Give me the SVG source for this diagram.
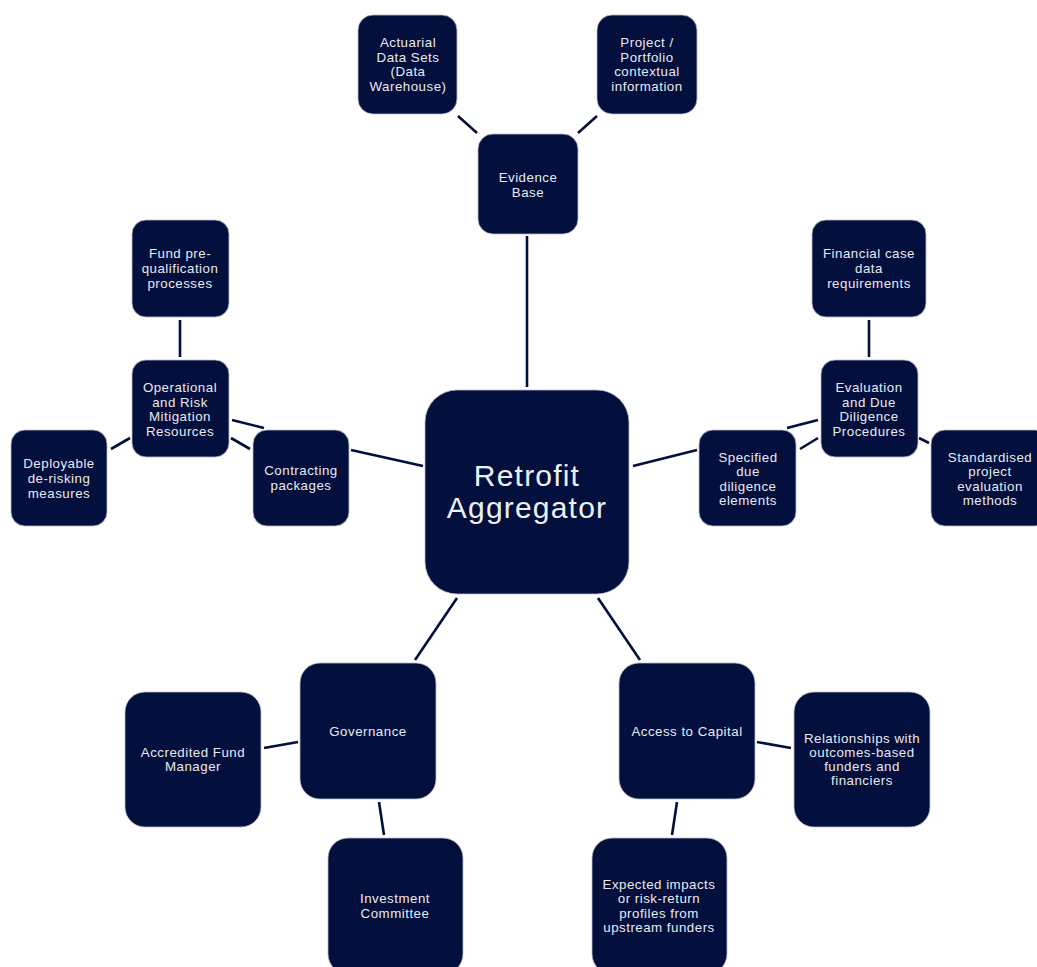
<svg xmlns="http://www.w3.org/2000/svg" width="1037" height="967" viewBox="0 0 1037 967">
  <style>
    .box { fill: #030f3c; stroke: #b9bccb; stroke-width: 0.8; }
    .lbl { font-family: "Liberation Sans", Arial, sans-serif; font-size: 13.3px; fill: #e9eaf0; text-anchor: middle; letter-spacing: 0.5px; }
    .big { font-family: "Liberation Sans", Arial, sans-serif; font-size: 30px; fill: #eeeff4; text-anchor: middle; letter-spacing: 1.2px; }
    .link { stroke: #030f3c; stroke-width: 2.6; fill: none; }
  </style>

  <!-- connectors -->
  <g id="connectors" class="link">
    <line x1="527" y1="236" x2="527" y2="387"/>
    <line x1="458" y1="116" x2="477" y2="133"/>
    <line x1="597" y1="116" x2="578" y2="133"/>
    <line x1="351" y1="450" x2="423" y2="466"/>
    <line x1="180" y1="320" x2="180" y2="357"/>
    <line x1="130" y1="438" x2="111" y2="449"/>
    <line x1="232" y1="420" x2="264" y2="428"/>
    <line x1="231" y1="438" x2="250" y2="449"/>
    <line x1="633" y1="466" x2="697" y2="450"/>
    <line x1="869" y1="320" x2="869" y2="357"/>
    <line x1="818" y1="420" x2="787" y2="428"/>
    <line x1="818" y1="438" x2="800" y2="449"/>
    <line x1="919" y1="438" x2="929" y2="443"/>
    <line x1="457" y1="598" x2="415" y2="660"/>
    <line x1="264" y1="748" x2="298" y2="742"/>
    <line x1="379" y1="802" x2="384" y2="835"/>
    <line x1="598" y1="598" x2="640" y2="660"/>
    <line x1="757" y1="742" x2="791" y2="748"/>
    <line x1="677" y1="802" x2="672" y2="835"/>
  </g>

  <!-- central node -->
  <g id="retrofit-aggregator">
    <rect class="box" x="425" y="390" width="204" height="204" rx="32"/>
    <text class="big" x="527" y="486">Retrofit</text>
    <text class="big" x="527" y="518">Aggregator</text>
  </g>

  <!-- evidence branch -->
  <g id="evidence-base">
    <rect class="box" x="478" y="134" width="100" height="100" rx="15"/>
    <text class="lbl" x="528" y="182">Evidence</text>
    <text class="lbl" x="528" y="197">Base</text>
  </g>
  <g id="actuarial-data">
    <rect class="box" x="358" y="15" width="99" height="99" rx="15"/>
    <text class="lbl" x="408" y="47">Actuarial</text>
    <text class="lbl" x="408" y="62">Data Sets</text>
    <text class="lbl" x="408" y="76">(Data</text>
    <text class="lbl" x="408" y="91">Warehouse)</text>
  </g>
  <g id="project-portfolio">
    <rect class="box" x="597" y="15" width="100" height="99" rx="15"/>
    <text class="lbl" x="647" y="47">Project /</text>
    <text class="lbl" x="647" y="62">Portfolio</text>
    <text class="lbl" x="647" y="76">contextual</text>
    <text class="lbl" x="647" y="91">information</text>
  </g>

  <!-- operational branch -->
  <g id="fund-prequalification">
    <rect class="box" x="132" y="220" width="97" height="97" rx="14"/>
    <text class="lbl" x="180" y="258">Fund pre-</text>
    <text class="lbl" x="180" y="273">qualification</text>
    <text class="lbl" x="180" y="288">processes</text>
  </g>
  <g id="operational-risk">
    <rect class="box" x="132" y="360" width="97" height="97" rx="14"/>
    <text class="lbl" x="180" y="392">Operational</text>
    <text class="lbl" x="180" y="407">and Risk</text>
    <text class="lbl" x="180" y="421">Mitigation</text>
    <text class="lbl" x="180" y="436">Resources</text>
  </g>
  <g id="deployable-derisking">
    <rect class="box" x="11" y="430" width="96" height="96" rx="14"/>
    <text class="lbl" x="59" y="468">Deployable</text>
    <text class="lbl" x="59" y="483">de-risking</text>
    <text class="lbl" x="59" y="498">measures</text>
  </g>
  <g id="contracting-packages">
    <rect class="box" x="253" y="430" width="96" height="96" rx="14"/>
    <text class="lbl" x="301" y="475">Contracting</text>
    <text class="lbl" x="301" y="490">packages</text>
  </g>

  <!-- evaluation branch -->
  <g id="financial-case">
    <rect class="box" x="812" y="220" width="114" height="97" rx="14"/>
    <text class="lbl" x="869" y="258">Financial case</text>
    <text class="lbl" x="869" y="273">data</text>
    <text class="lbl" x="869" y="288">requirements</text>
  </g>
  <g id="evaluation-due-diligence">
    <rect class="box" x="821" y="360" width="97" height="97" rx="14"/>
    <text class="lbl" x="869" y="392">Evaluation</text>
    <text class="lbl" x="869" y="407">and Due</text>
    <text class="lbl" x="869" y="421">Diligence</text>
    <text class="lbl" x="869" y="436">Procedures</text>
  </g>
  <g id="specified-due-diligence">
    <rect class="box" x="699" y="430" width="97" height="96" rx="14"/>
    <text class="lbl" x="748" y="462">Specified</text>
    <text class="lbl" x="748" y="476">due</text>
    <text class="lbl" x="748" y="491">diligence</text>
    <text class="lbl" x="748" y="505">elements</text>
  </g>
  <g id="standardised-evaluation">
    <rect class="box" x="931" y="430" width="118" height="96" rx="14"/>
    <text class="lbl" x="990" y="462">Standardised</text>
    <text class="lbl" x="990" y="476">project</text>
    <text class="lbl" x="990" y="491">evaluation</text>
    <text class="lbl" x="990" y="505">methods</text>
  </g>

  <!-- governance branch -->
  <g id="governance">
    <rect class="box" x="300" y="663" width="136" height="136" rx="20"/>
    <text class="lbl" x="368" y="736">Governance</text>
  </g>
  <g id="accredited-fund-manager">
    <rect class="box" x="125" y="692" width="136" height="135" rx="20"/>
    <text class="lbl" x="193" y="757">Accredited Fund</text>
    <text class="lbl" x="193" y="771">Manager</text>
  </g>
  <g id="investment-committee">
    <rect class="box" x="328" y="838" width="135" height="136" rx="20"/>
    <text class="lbl" x="395" y="903">Investment</text>
    <text class="lbl" x="395" y="918">Committee</text>
  </g>

  <!-- capital branch -->
  <g id="access-to-capital">
    <rect class="box" x="619" y="663" width="136" height="136" rx="20"/>
    <text class="lbl" x="687" y="736">Access to Capital</text>
  </g>
  <g id="outcomes-based-funders">
    <rect class="box" x="794" y="692" width="136" height="135" rx="20"/>
    <text class="lbl" x="862" y="743">Relationships with</text>
    <text class="lbl" x="862" y="757">outcomes-based</text>
    <text class="lbl" x="862" y="771">funders and</text>
    <text class="lbl" x="862" y="785">financiers</text>
  </g>
  <g id="upstream-funders">
    <rect class="box" x="592" y="838" width="135" height="136" rx="20"/>
    <text class="lbl" x="659" y="889">Expected impacts</text>
    <text class="lbl" x="659" y="903">or risk-return</text>
    <text class="lbl" x="659" y="918">profiles from</text>
    <text class="lbl" x="659" y="932">upstream funders</text>
  </g>
</svg>
